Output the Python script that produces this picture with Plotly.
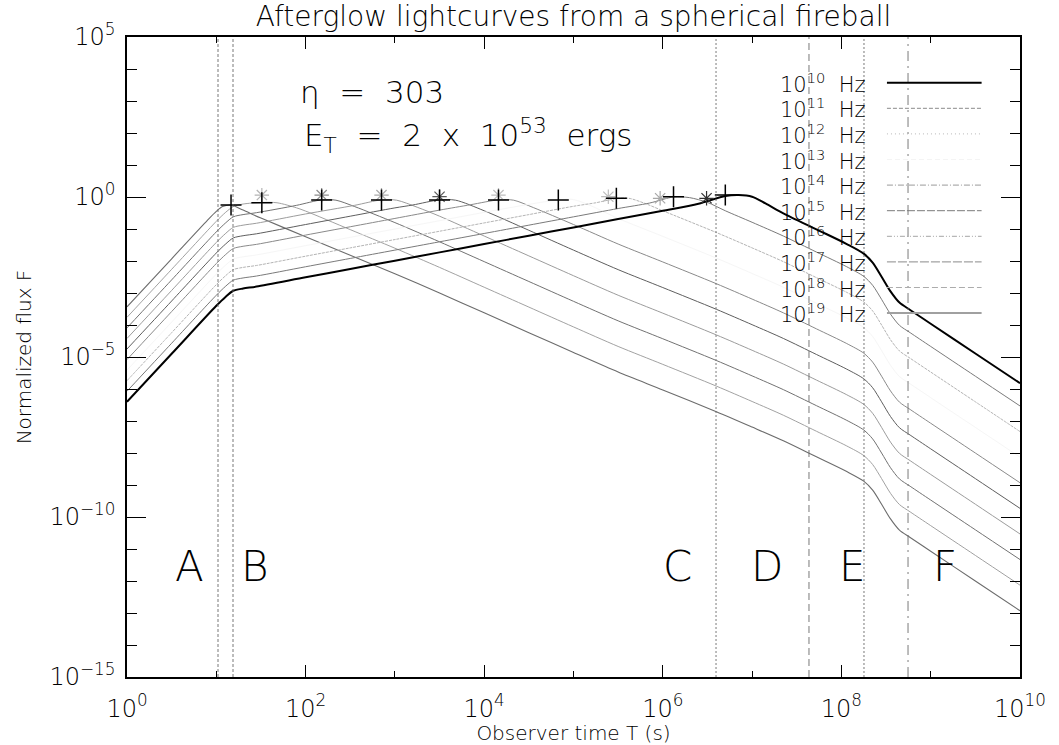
import plotly.graph_objects as go

# Frequencies of the light curves (log10 of nu in Hz)
freq_exp = [10, 11, 12, 13, 14, 15, 16, 17, 18, 19]

# Light curves: log10 of observer time T [s] and log10 of normalized flux F
logt_1e10 = [0, 0.5, 1.0, 1.1, 1.19, 1.3, 1.45, 2.0, 2.5, 3.0, 3.5, 4.0, 4.5, 5.0, 5.5, 6.0, 6.4, 6.7, 6.85, 7.0,
             7.15, 7.35, 7.72, 8.06, 8.25, 8.35, 8.45, 8.55, 8.65, 8.77, 9.0, 9.5, 10.0]
logf_1e10 = [-6.40, -4.90, -3.40, -3.13, -2.93, -2.86, -2.80, -2.51, -2.25, -1.99, -1.73, -1.47, -1.21, -0.95, -0.69,
             -0.43, -0.21, 0.03, 0.06, 0.01, -0.20, -0.51, -1.01, -1.47, -1.77, -2.05, -2.49, -2.95, -3.30, -3.53,
             -3.96, -4.89, -5.82]

logt_1e11 = [0, 0.5, 1.0, 1.1, 1.19, 1.3, 1.45, 2.0, 2.5, 3.0, 3.5, 4.0, 4.5, 5.0, 5.5, 5.85, 6.12, 6.3, 6.5, 6.7,
             7.0, 7.35, 7.72, 8.06, 8.25, 8.35, 8.45, 8.55, 8.65, 8.77, 9.0, 9.5, 10.0]
logf_1e11 = [-6.07, -4.57, -3.07, -2.80, -2.60, -2.53, -2.47, -2.18, -1.92, -1.66, -1.40, -1.14, -0.88, -0.62, -0.36,
             -0.19, 0.00, -0.02, -0.17, -0.43, -0.79, -1.22, -1.72, -2.18, -2.48, -2.76, -3.20, -3.66, -4.01, -4.24,
             -4.67, -5.60, -6.53]

logt_1e12 = [0, 0.5, 1.0, 1.1, 1.19, 1.3, 1.45, 2.0, 2.5, 3.0, 3.5, 4.0, 4.5, 5.0, 5.25, 5.48, 5.62, 5.8, 6.0, 6.6,
             7.0, 7.35, 7.72, 8.06, 8.25, 8.35, 8.45, 8.55, 8.65, 8.77, 9.0, 9.5, 10.0]
logf_1e12 = [-5.74, -4.24, -2.74, -2.47, -2.27, -2.20, -2.14, -1.85, -1.59, -1.33, -1.07, -0.81, -0.55, -0.29, -0.18,
             -0.05, -0.04, -0.20, -0.43, -1.11, -1.59, -2.02, -2.52, -2.98, -3.28, -3.56, -4.00, -4.46, -4.81, -5.04,
             -5.47, -6.40, -7.33]

logt_1e13 = [0, 0.5, 1.0, 1.1, 1.19, 1.3, 1.45, 2.0, 2.5, 3.0, 3.5, 4.0, 4.5, 4.83, 5.0, 5.2, 5.5, 6.0, 6.6, 7.0,
             7.35, 7.72, 8.06, 8.25, 8.35, 8.45, 8.55, 8.65, 8.77, 9.0, 9.5, 10.0]
logf_1e13 = [-5.41, -3.91, -2.41, -2.14, -1.94, -1.87, -1.81, -1.52, -1.26, -1.00, -0.74, -0.48, -0.23, -0.09, -0.08,
             -0.28, -0.67, -1.23, -1.91, -2.39, -2.82, -3.32, -3.78, -4.08, -4.36, -4.80, -5.26, -5.61, -5.84, -6.27,
             -7.20, -8.13]

logt_1e14 = [0, 0.5, 1.0, 1.1, 1.19, 1.3, 1.45, 2.0, 2.5, 3.0, 3.5, 3.85, 4.16, 4.33, 4.55, 5.0, 5.5, 6.0, 6.6, 7.0,
             7.35, 7.72, 8.06, 8.25, 8.35, 8.45, 8.55, 8.65, 8.77, 9.0, 9.5, 10.0]
logf_1e14 = [-5.08, -3.58, -2.08, -1.81, -1.61, -1.54, -1.48, -1.19, -0.93, -0.67, -0.41, -0.24, -0.09, -0.10, -0.33,
             -0.86, -1.47, -2.03, -2.71, -3.19, -3.62, -4.12, -4.58, -4.88, -5.16, -5.60, -6.06, -6.41, -6.64, -7.07,
             -8.00, -8.93]

logt_1e15 = [0, 0.5, 1.0, 1.1, 1.19, 1.3, 1.45, 2.0, 2.5, 3.0, 3.2, 3.5, 3.68, 4.0, 4.5, 5.0, 5.5, 6.0, 6.6, 7.0,
             7.35, 7.72, 8.06, 8.25, 8.35, 8.45, 8.55, 8.65, 8.77, 9.0, 9.5, 10.0]
logf_1e15 = [-4.75, -3.25, -1.75, -1.48, -1.28, -1.21, -1.15, -0.86, -0.60, -0.34, -0.25, -0.09, -0.10, -0.43, -1.04,
             -1.66, -2.27, -2.83, -3.51, -3.99, -4.42, -4.92, -5.38, -5.68, -5.96, -6.40, -6.86, -7.21, -7.44, -7.87,
             -8.80, -9.73]

logt_1e16 = [0, 0.5, 1.0, 1.1, 1.19, 1.3, 1.45, 2.0, 2.55, 2.85, 3.02, 3.25, 3.5, 4.0, 4.5, 5.0, 5.5, 6.0, 6.6, 7.0,
             7.35, 7.72, 8.06, 8.25, 8.35, 8.45, 8.55, 8.65, 8.77, 9.0, 9.5, 10.0]
logf_1e16 = [-4.42, -2.92, -1.42, -1.15, -0.95, -0.88, -0.82, -0.53, -0.26, -0.09, -0.10, -0.32, -0.60, -1.22, -1.84,
             -2.46, -3.07, -3.63, -4.31, -4.79, -5.22, -5.72, -6.18, -6.48, -6.76, -7.20, -7.66, -8.01, -8.24, -8.67,
             -9.60, -10.53]

logt_1e17 = [0, 0.5, 1.0, 1.1, 1.19, 1.3, 1.45, 1.9, 2.18, 2.34, 2.55, 3.0, 3.5, 4.0, 4.5, 5.0, 5.5, 6.0, 6.6, 7.0,
             7.35, 7.72, 8.06, 8.25, 8.35, 8.45, 8.55, 8.65, 8.77, 9.0, 9.5, 10.0]
logf_1e17 = [-4.09, -2.59, -1.09, -0.82, -0.62, -0.55, -0.49, -0.26, -0.09, -0.10, -0.30, -0.80, -1.40, -2.02, -2.64,
             -3.26, -3.87, -4.43, -5.11, -5.59, -6.02, -6.52, -6.98, -7.28, -7.56, -8.00, -8.46, -8.81, -9.04, -9.47,
             -10.40, -11.33]

logt_1e18 = [0, 0.5, 1.0, 1.1, 1.19, 1.3, 1.51, 1.68, 1.9, 2.0, 2.5, 3.0, 3.5, 4.0, 4.5, 5.0, 5.5, 6.0, 6.6, 7.0,
             7.35, 7.72, 8.06, 8.25, 8.35, 8.45, 8.55, 8.65, 8.77, 9.0, 9.5, 10.0]
logf_1e18 = [-3.76, -2.26, -0.76, -0.49, -0.30, -0.22, -0.17, -0.18, -0.34, -0.44, -1.02, -1.60, -2.20, -2.82, -3.44,
             -4.06, -4.67, -5.23, -5.91, -6.39, -6.82, -7.32, -7.78, -8.08, -8.36, -8.80, -9.26, -9.61, -9.84, -10.27,
             -11.20, -12.13]

logt_1e19 = [0, 0.5, 0.9, 1.0, 1.07, 1.165, 1.3, 1.5, 2.0, 2.5, 3.0, 3.5, 4.0, 4.5, 5.0, 5.5, 6.0, 6.6, 7.0, 7.35,
             7.72, 8.06, 8.25, 8.35, 8.45, 8.55, 8.65, 8.77, 9.0, 9.5, 10.0]
logf_1e19 = [-3.43, -1.93, -0.73, -0.45, -0.30, -0.25, -0.41, -0.66, -1.24, -1.82, -2.40, -3.00, -3.62, -4.24, -4.86,
             -5.47, -6.03, -6.71, -7.19, -7.62, -8.12, -8.58, -8.88, -9.16, -9.60, -10.06, -10.41, -10.64, -11.07,
             -12.00, -12.93]

curves = [
    (logt_1e10, logf_1e10), (logt_1e11, logf_1e11), (logt_1e12, logf_1e12), (logt_1e13, logf_1e13),
    (logt_1e14, logf_1e14), (logt_1e15, logf_1e15), (logt_1e16, logf_1e16), (logt_1e17, logf_1e17),
    (logt_1e18, logf_1e18), (logt_1e19, logf_1e19),
]

# Line appearance per frequency
line_colors = ["#000000", "#7a7a7a", "#b4b4b4", "#f6f6f6", "#8a8a8a",
               "#5e5e5e", "#9c9c9c", "#727272", "#a2a2a2", "#6c6c6c"]
line_widths = [2.0, 1, 1, 1, 1, 1, 1, 1, 1, 1.1]
curve_dash = ["solid", "solid", "3px,1px", "solid", "solid", "solid", "solid", "solid", "solid", "solid"]
legend_dash = ["solid", "4px,2px", "1px,3px", "5px,3px", "6px,2px,1px,2px", "8px,2px",
               "5px,2px,1px,2px,1px,2px", "9px,2px", "6px,3px", "solid"]
legend_colors = ["#000000", "#8a8a8a", "#b8b8b8", "#f4f4f4", "#9a9a9a",
                 "#7a7a7a", "#a6a6a6", "#8a8a8a", "#acacac", "#a0a0a0"]
legend_widths = [2.0, 1, 1, 1, 1, 1, 1, 1, 1, 2.0]

# Peak-time markers: "+" (analytic) and "*" (numerical), log10 T and log10 F
plus_logt = [1.165, 1.51, 2.18, 2.85, 3.50, 4.16, 4.83, 5.48, 6.12, 6.70]
plus_logf = [-0.25, -0.18, -0.09, -0.09, -0.09, -0.09, -0.09, -0.04, 0.01, 0.06]
star_logt = [1.51, 2.18, 2.85, 3.50, 4.16, 5.39, 5.97, 6.49]
star_logf = [0.06, 0.06, 0.06, 0.01, 0.06, 0.01, -0.04, -0.04]
star_colors = ["#b4b4b4", "#8c8c8c", "#aaaaaa", "#5a5a5a", "#bdbdbd", "#bdbdbd", "#a8a8a8", "#303030"]

# Phase boundaries (log10 T) and their line styles
bound_logt = [1.019, 1.187, 6.596, 7.637, 8.253, 8.746]
bound_dash = ["3px,2px", "3px,2px", "2px,2px", "7px,4px", "2px,2px", "10px,5px,2px,5px"]
phase_names = ["A", "B", "C", "D", "E", "F"]
phase_logt = [0.705, 1.433, 6.159, 7.167, 8.119, 9.160]
phase_logf = -11.56

# Axis ticks
x_tick_exp = [0, 2, 4, 6, 8, 10]
x_minor_exp = [1, 3, 5, 7, 9]
y_tick_exp = [-15, -10, -5, 0, 5]
y_minor_exp = [e for e in range(-15, 6) if e % 5 != 0]

FONT = "DejaVu Sans ExtraLight, DejaVu Sans"
INK = "#000000"
WEIGHT = 200


def sup_label(e):
    s = str(e).replace("-", "\u2212")
    return "10<sup>" + s + "</sup>"


def txt_font(size):
    return dict(family=FONT, size=size, color=INK, weight=WEIGHT)


fig = go.Figure()

for k in reversed(range(len(curves))):
    lt, lf = curves[k]
    fig.add_trace(go.Scatter(
        x=[10 ** v for v in lt], y=[10 ** v for v in lf], mode="lines",
        line=dict(color=line_colors[k], width=line_widths[k], dash=curve_dash[k],
                  shape="spline", smoothing=0.8),
        showlegend=False, hoverinfo="skip"))

fig.add_trace(go.Scatter(
    x=[10 ** v for v in star_logt], y=[10 ** v for v in star_logf], mode="markers",
    marker=dict(symbol="asterisk-open", size=12, color=star_colors,
                line=dict(color=star_colors, width=1.2)),
    showlegend=False, hoverinfo="skip"))

fig.add_trace(go.Scatter(
    x=[10 ** v for v in plus_logt], y=[10 ** v for v in plus_logf], mode="markers",
    marker=dict(symbol="cross-thin-open", size=15, color="#000000",
                line=dict(color="#000000", width=1.5)),
    showlegend=False, hoverinfo="skip"))

# Phase boundary lines
for lt, dash in zip(bound_logt, bound_dash):
    fig.add_shape(type="line", xref="x", yref="paper", x0=10 ** lt, x1=10 ** lt, y0=0, y1=1,
                  line=dict(color="#6a6a6a", width=0.9, dash=dash), layer="above")

# Phase labels
for name, lt in zip(phase_names, phase_logt):
    fig.add_annotation(x=lt, y=phase_logf, xref="x", yref="y", text=name, showarrow=False,
                       font=txt_font(42), xanchor="center", yanchor="middle")

# Model parameters
fig.add_annotation(xref="paper", yref="paper", x=0.192, y=0.914, text="\u03b7  =  303", showarrow=False,
                   xanchor="left", yanchor="middle", font=txt_font(31))
fig.add_annotation(xref="paper", yref="paper", x=0.196, y=0.846,
                   text="E<sub>T</sub>  =  2  x  10<sup>53</sup>  ergs", showarrow=False,
                   xanchor="left", yanchor="middle", font=txt_font(31))

# Legend: label on the left, line sample on the right
for i, e in enumerate(freq_exp):
    yp = (677 - (82.7 + 25.6 * i)) / 640
    fig.add_annotation(xref="paper", yref="paper", x=0.830, y=yp, text=sup_label(e) + "  Hz",
                       showarrow=False, xanchor="right", yanchor="middle", font=txt_font(21))
    fig.add_shape(type="line", xref="paper", yref="paper", x0=0.851, x1=0.957, y0=yp, y1=yp,
                  line=dict(color=legend_colors[i], width=legend_widths[i], dash=legend_dash[i]))

axis_common = dict(
    type="log", showgrid=False, zeroline=False, showline=True, linecolor="#000000", linewidth=1.5,
    color="#000000", mirror="allticks", ticks="inside", tickcolor="#000000", tickwidth=1,
    tickfont=txt_font(24),
)

fig.update_xaxes(
    **axis_common, range=[0, 10], ticklen=12,
    tickvals=[10 ** e for e in x_tick_exp], ticktext=[sup_label(e) for e in x_tick_exp],
    minor=dict(tickvals=[10 ** e for e in x_minor_exp], ticklen=6, ticks="inside",
               tickcolor="#000000", tickwidth=1),
    ticklabelstandoff=9,
    title=dict(text="Observer time T (s)", font=txt_font(20), standoff=2),
)
fig.update_yaxes(
    **axis_common, range=[-15, 5], ticklen=19,
    tickvals=[10 ** e for e in y_tick_exp], ticktext=[sup_label(e) for e in y_tick_exp],
    minor=dict(tickvals=[10 ** e for e in y_minor_exp], ticklen=10, ticks="inside",
               tickcolor="#000000", tickwidth=1),
    ticklabelstandoff=5,
    title=dict(text="Normalized flux F", font=txt_font(20), standoff=12),
)

fig.update_layout(
    template="none",
    font=dict(family=FONT, color=INK, weight=WEIGHT),
    width=1059, height=745,
    margin=dict(l=127, r=39, t=37, b=68, autoexpand=False),
    paper_bgcolor="white", plot_bgcolor="white",
    showlegend=False,
    title=dict(text="Afterglow lightcurves from a spherical fireball", x=0.5, xref="paper",
               y=1 - 16 / 745, yref="container", xanchor="center", yanchor="middle",
               font=txt_font(28)),
)

fig.write_html("out.html")
